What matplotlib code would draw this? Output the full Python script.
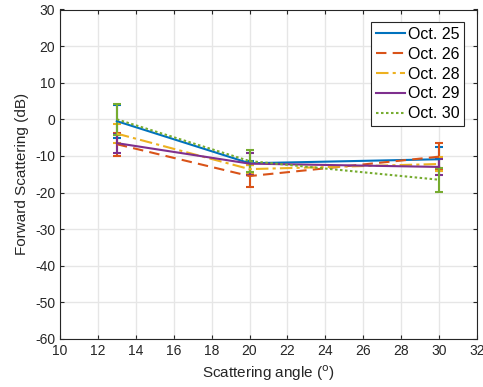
import matplotlib.pyplot as plt
from matplotlib.lines import Line2D

plt.rcParams["font.family"] = ["Liberation Sans", "DejaVu Sans"]
plt.rcParams["axes.unicode_minus"] = False

angle = [13, 20, 30]
labels = ["Oct. 25", "Oct. 26", "Oct. 28", "Oct. 29", "Oct. 30"]
means = [
    [-0.5, -12.0, -10.9],
    [-6.8, -15.5, -10.2],
    [-3.9, -13.6, -12.2],
    [-6.5, -12.1, -13.0],
    [0.0, -11.4, -16.5],
]
errs = [
    [4.5, 0.5, 3.3],
    [3.2, 3.0, 3.7],
    [2.7, 1.0, 2.0],
    [2.6, 3.0, 2.3],
    [4.3, 3.0, 3.3],
]
colors = ["#0072BD", "#D95319", "#EDB120", "#7E2F8E", "#77AC30"]
styles = ["-", (0, (5, 3)), (0, (6, 2, 1.5, 2)), "-", (0, (1.2, 1.2))]

fig = plt.figure(figsize=(4.83, 3.87), dpi=100)
ax = fig.add_axes([60 / 483, 1 - 339 / 387, 417 / 483, 329.5 / 387])

handles = []
for m, e, lab, c, ls in zip(means, errs, labels, colors, styles):
    ax.errorbar(angle, m, yerr=e, color=c, ls=ls, lw=1.5, capsize=3,
                elinewidth=1.5, capthick=1.5)
    handles.append(Line2D([], [], color=c, ls=ls, lw=1.5, label=lab))

ax.set_xlim(10, 32)
ax.set_ylim(-60, 30)
ax.set_xticks(range(10, 33, 2))
ax.set_yticks(range(-60, 31, 10))
ax.grid(True, color="#e6e6e6", lw=1)
ax.set_axisbelow(True)
ax.tick_params(direction="in", length=3, labelsize=10, colors="#262626",
               top=True, right=True)
for s in ax.spines.values():
    s.set_color("#262626")
    s.set_linewidth(0.8)
ax.set_xlabel("Scattering angle ($^{\\rm o}$)", fontsize=11, color="#262626")
ax.set_ylabel("Forward Scattering (dB)", fontsize=11, color="#262626")
leg = ax.legend(handles=handles, loc="upper right", fontsize=11.5,
                fancybox=False, edgecolor="#262626", framealpha=1,
                handlelength=1.8, borderaxespad=0.8, labelspacing=0.3,
                handletextpad=0.2, borderpad=0.3)
leg.get_frame().set_linewidth(0.8)

plt.savefig("out.png", dpi=100)
